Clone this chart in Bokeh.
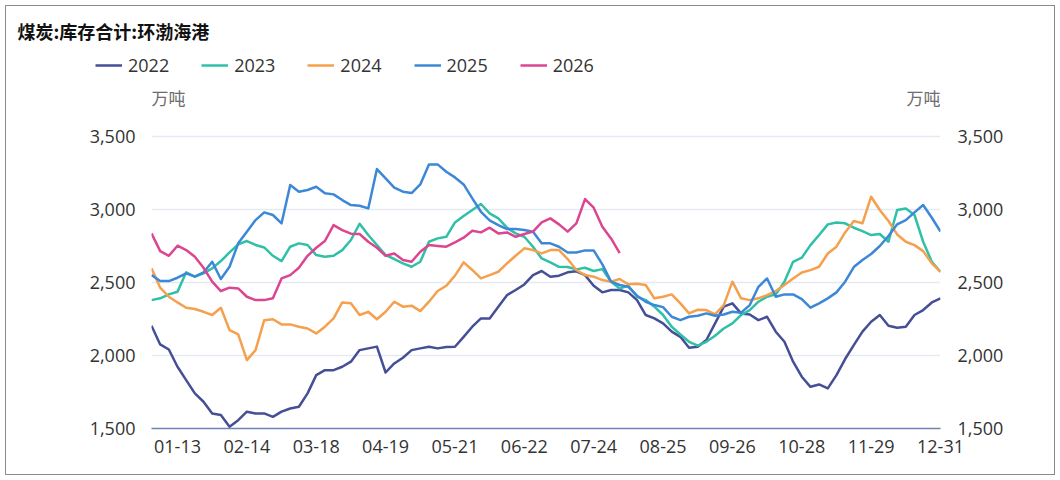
from datetime import datetime

from bokeh.embed import file_html
from bokeh.layouts import column
from bokeh.models import (FixedTicker, Label, Legend, LegendItem, LinearAxis,
                          NumeralTickFormatter, Range1d)
from bokeh.plotting import figure
from bokeh.resources import INLINE

title = "煤炭:库存合计:环渤海港"
unit = "万吨"
tick_labels = ["01-13", "02-14", "03-18", "04-19", "05-21", "06-22",
               "07-24", "08-25", "09-26", "10-28", "11-29", "12-31"]
y_ticks = [1500, 2000, 2500, 3000, 3500]

# valores lidos a cada 4 dias (dia do ano, 0 = 01-01)
days = list(range(0, 365, 4))

v2022 = [2203, 2075, 2040, 1922, 1831, 1740, 1683, 1603, 1592, 1512, 1557, 1615,
         1603, 1603, 1580, 1615, 1637, 1649, 1740, 1865, 1899, 1899, 1922, 1957,
         2036, 2048, 2060, 1883, 1945, 1984, 2036, 2048, 2059, 2048, 2057, 2059,
         2127, 2196, 2253, 2253, 2333, 2412, 2447, 2485, 2549, 2577,
         2538, 2545, 2568, 2575, 2549, 2476, 2431, 2447, 2447, 2431, 2378, 2276,
         2253, 2219, 2162, 2127, 2052, 2059, 2105, 2219, 2333, 2356, 2287,
         2280, 2241, 2264, 2162, 2093, 1957, 1854, 1785, 1801, 1774, 1865, 1975,
         2070, 2162, 2230, 2276, 2203, 2189, 2196, 2276, 2310, 2362, 2390]

v2023 = [2378, 2390, 2417, 2435, 2568, 2538, 2561, 2595, 2645, 2704, 2759, 2782,
         2755, 2738, 2681, 2645, 2743, 2766, 2755, 2686, 2675, 2681, 2720, 2789,
         2900, 2823, 2755, 2686, 2659, 2629, 2606, 2640, 2777, 2800, 2811, 2909,
         2953, 2994, 3035, 2971, 2937, 2873, 2834, 2811, 2743, 2663,
         2636, 2606, 2604, 2588, 2599, 2577, 2590, 2504, 2458, 2476, 2401, 2378,
         2333, 2276, 2196, 2143, 2093, 2066, 2093, 2134, 2184, 2219, 2276,
         2310, 2367, 2401, 2417, 2504, 2640, 2668, 2754, 2823, 2896, 2909, 2903,
         2873, 2850, 2823, 2830, 2777, 2994, 3005, 2960, 2777, 2640, 2572]

v2024 = [2595, 2463, 2401, 2362, 2326, 2317, 2298, 2276, 2326, 2173, 2143, 1968,
         2036, 2241, 2247, 2212, 2212, 2196, 2184, 2150, 2196, 2253, 2362, 2356,
         2276, 2298, 2247, 2298, 2367, 2333, 2340, 2303, 2367, 2440, 2476, 2545,
         2636, 2584, 2526, 2549, 2572, 2629, 2681, 2732, 2720, 2697,
         2720, 2720, 2659, 2584, 2549, 2538, 2515, 2504, 2522, 2486, 2490, 2481,
         2390, 2401, 2417, 2356, 2287, 2312, 2310, 2280, 2344, 2504, 2390,
         2378, 2390, 2412, 2440, 2481, 2526, 2567, 2583, 2606, 2697, 2743, 2841,
         2919, 2903, 3085, 2994, 2919, 2827, 2777, 2754, 2713, 2629, 2572]

v2025 = [2549, 2508, 2508, 2531, 2561, 2538, 2567, 2640, 2522, 2606, 2766, 2846,
         2925, 2978, 2960, 2903, 3165, 3119, 3131, 3153, 3108, 3101, 3062, 3028,
         3023, 3005, 3274, 3210, 3147, 3119, 3110, 3169, 3306, 3306, 3256, 3217,
         3169, 3074, 2982, 2923, 2891, 2864, 2864, 2857, 2846, 2766,
         2766, 2743, 2704, 2704, 2718, 2718, 2622, 2504, 2481, 2469, 2408, 2367,
         2344, 2330, 2264, 2241, 2264, 2271, 2287, 2271, 2280, 2298, 2292,
         2344, 2469, 2526, 2401, 2417, 2417, 2385, 2326, 2356, 2390, 2431, 2504,
         2604, 2652, 2693, 2748, 2816, 2896, 2925, 2978, 3028, 2941, 2846]

v2026 = [2834, 2713, 2681, 2750, 2720, 2675, 2599, 2504, 2440, 2463, 2458, 2401,
         2378, 2378, 2390, 2526, 2549, 2599, 2681, 2736, 2782, 2891, 2857, 2832,
         2830, 2777, 2736, 2681, 2697, 2652, 2640, 2709, 2754, 2748, 2743, 2773,
         2805, 2852, 2841, 2873, 2834, 2841, 2811, 2830, 2846, 2909,
         2937, 2896, 2846, 2903, 3069, 3010, 2880, 2800, 2700]

series = [("2022", v2022, "#454f96"),
          ("2023", v2023, "#30c0a8"),
          ("2024", v2024, "#f5a04c"),
          ("2025", v2025, "#3d88d6"),
          ("2026", v2026, "#dc4590")]

# posição dos ticks: dia do ano de cada rótulo
tick_pos = [datetime.strptime("2023-" + t, "%Y-%m-%d").timetuple().tm_yday - 1
            for t in tick_labels]

num_font = "Open Sans"
cjk_font = "Noto Sans CJK SC"
text_color = "#333333"

# cabeçalho: título e legenda (o quadro dele é alinhado com o do gráfico,
# por isso é deslocado para a esquerda)
head = figure(width=1060, height=82, x_range=Range1d(0, 1), y_range=Range1d(0, 1),
              x_axis_location=None, y_axis_location=None,
              output_backend="svg", toolbar_location=None,
              min_border_left=0, min_border_right=0, min_border_top=0, min_border_bottom=0)
head.outline_line_color = None
head.border_fill_color = None
head.background_fill_color = None
head.grid.visible = False
head.styles = {"transform": "translateX(-146px)"}

head.add_layout(Label(x=12, y=52, x_units="screen", y_units="screen", text=title,
                      text_font=cjk_font, text_font_size="18px", text_font_style="bold",
                      text_color="#111111", text_baseline="middle"))

# gráfico principal; o topo do quadro fica acima de 3.500 para caber a unidade (万吨)
p = figure(width=1060, height=398, x_range=Range1d(0, 364), y_range=Range1d(1500, 3866),
           output_backend="svg", toolbar_location=None,
           min_border_left=151, min_border_right=120, min_border_top=0, min_border_bottom=52)
p.outline_line_color = None
p.border_fill_color = None
p.background_fill_color = None

p.xgrid.grid_line_color = None
p.ygrid.grid_line_color = "#e6e9f3"
p.ygrid.grid_line_width = 1.5
p.ygrid.ticker = FixedTicker(ticks=y_ticks)

p.xaxis.ticker = FixedTicker(ticks=tick_pos)
p.xaxis.major_label_overrides = {d: t for d, t in zip(tick_pos, tick_labels)}
p.xaxis.axis_line_color = "#7282b8"
p.xaxis.axis_line_width = 1.5
p.xaxis.major_tick_line_color = None
p.xaxis.minor_tick_line_color = None
p.xaxis.major_label_standoff = 5
p.xaxis.major_label_text_font = num_font
p.xaxis.major_label_text_font_size = "18px"
p.xaxis.major_label_text_color = text_color

right_axis = LinearAxis()
p.add_layout(right_axis, "right")
for ax in (p.yaxis[0], right_axis):
    ax.ticker = FixedTicker(ticks=y_ticks)
    ax.formatter = NumeralTickFormatter(format="0,0")
    ax.axis_line_color = None
    ax.major_tick_line_color = None
    ax.minor_tick_line_color = None
    ax.major_label_text_font = num_font
    ax.major_label_text_font_size = "18px"
    ax.major_label_text_color = text_color
p.yaxis[0].major_label_standoff = 10
right_axis.major_label_standoff = 11

items = []
for name, vals, color in series:
    p.line(days[:len(vals)], vals, line_color=color, line_width=2.5, line_join="round")
    # a mesma série no cabeçalho fica fora da faixa visível; serve só à legenda
    r = head.line(days[:len(vals)], vals, line_color=color, line_width=2.5)
    items.append(LegendItem(label=name, renderers=[r]))

legend = Legend(items=items, orientation="horizontal", location=(90, 5),
                glyph_width=27, glyph_height=20, label_standoff=6, spacing=32,
                padding=0, margin=0, border_line_color=None, background_fill_alpha=0,
                label_text_font=num_font, label_text_font_size="18px",
                label_text_color=text_color)
head.add_layout(legend, "center")

p.add_layout(Label(x=0, y=331, x_units="screen", y_units="screen", text=unit,
                   text_font=cjk_font, text_font_size="17px", text_color="#6e6e6e",
                   text_baseline="middle"))
p.add_layout(Label(x=789, y=331, x_units="screen", y_units="screen", text=unit,
                   text_font=cjk_font, text_font_size="17px", text_color="#6e6e6e",
                   text_baseline="middle", text_align="right"))

layout = column(head, p, spacing=0)
layout.styles = {"outline": "1px solid #8a8a8a", "outline-offset": "-6px"}

open("out.html", "w").write(file_html(layout, INLINE))
